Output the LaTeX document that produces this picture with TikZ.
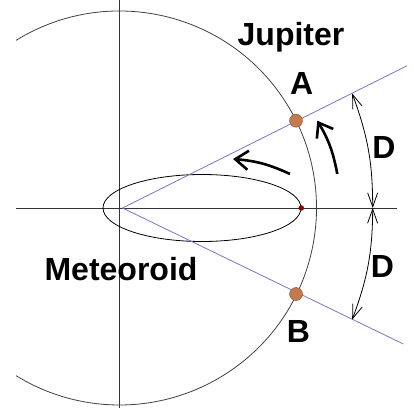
\documentclass[tikz,border=0pt]{standalone}
\usepackage{fontspec}
\setmainfont{Liberation Sans}
\usetikzlibrary{arrows.meta}
\definecolor{raycol}{RGB}{118,118,200}
\definecolor{dotcol}{RGB}{196,121,78}
\definecolor{dotrim}{RGB}{140,78,48}
\tikzset{
  lbl/.style={font=\fontsize{32}{32}\selectfont\bfseries, inner sep=0pt, anchor=base},
  body/.style={circle, fill=dotcol, draw=dotrim, inner sep=0pt, minimum size=13pt},
  ray/.style={raycol, line width=0.8pt},
  dim/.style={line width=0.8pt, {Straight Barb[length=14pt,width=10pt]}-{Straight Barb[length=14pt,width=10pt]}},
  move/.style={line width=2.6pt, -{Straight Barb[length=13pt,width=19pt]}}
}
\begin{document}
\begin{tikzpicture}[x=1pt,y=1pt]
\useasboundingbox (-119.5,-201) rectangle (294.5,208);
% axes and the orbit of Jupiter
\draw[black!80, line width=0.8pt] (-103.5,0) -- (277.5,0);
\draw[black!80, line width=0.8pt] (0,208) -- (0,-200);
\draw[black!75, line width=0.8pt] (121.7:197) arc[start angle=121.7, end angle=-121.7, radius=197];
% orbit of the meteoroid
\draw[line width=0.8pt] (82.5,0) ellipse[x radius=99, y radius=33.5];
\node[circle, fill=red!55!black, inner sep=0pt, minimum size=5.5pt] (P) at (181.8,0) {};
% rays from the sun
\coordinate (S) at (3,0);
\coordinate (R1) at (287.5,142.3);
\coordinate (R2) at (283.8,-136);
\draw[ray] (S) -- (R1);
\draw[ray] (S) -- (R2);
\node[body] (A) at (176.5,87.3) {};
\node[body] (B) at (176.5,-86) {};
% angles D
\coordinate (M) at (253.2,0);
\coordinate (D1) at (232.7,114.5);
\coordinate (D2) at (232.7,-111.5);
\draw[dim] (M) to[bend right=10] (D1);
\draw[dim] (M) to[bend left=10] (D2);
% motion
\coordinate (t1) at (170.5,34);
\coordinate (h1) at (113.5,49);
\coordinate (t2) at (217.8,34);
\coordinate (h2) at (197.8,87.3);
\draw[move] (t1) to[bend right=10] (h1);
\draw[move] (t2) to[bend right=10] (h2);
% labels
\node[lbl] (jup) at (171.5,162) {Jupiter};
\node[lbl] (la) at (182.2,113) {A};
\node[lbl] (lb) at (179,-134) {B};
\node[lbl] (ld1) at (264.5,49) {D};
\node[lbl] (ld2) at (263,-69) {D};
\node[lbl] (met) at (1.5,-72.7) {Meteoroid};
\end{tikzpicture}
\end{document}
